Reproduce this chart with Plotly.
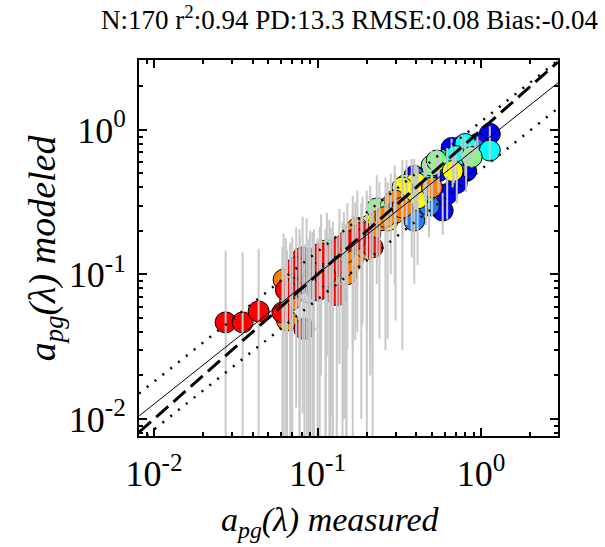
import plotly.graph_objects as go

# ---- header statistics
n_obs = 170
r2 = 0.94
pd_pct = 13.3
rmse = 0.08
bias = -0.04

# ---- regression fit (power law) and its +/- band
fit_coef = 0.80
fit_exp = 0.90
band_up = 1.43
band_down = 1.50

# ---- one colour per wavelength band (jet-like), drawn blue first, red last
band_colors = ["#0000FF", "#1E7FFF", "#00FFFF", "#80FF80", "#FFFF00", "#FF8000", "#FF0000"]

# band 0 (blue)
meas_b0 = [1.13, 0.76, 0.81, 0.71, 0.582, 0.85, 0.39, 0.62, 0.95, 0.66, 0.80, 0.55]
mod_b0 = [0.94, 0.77, 0.52, 0.43, 0.277, 0.70, 0.48, 0.36, 0.80, 0.75, 0.58, 0.52]
err_b0 = [0.12, 0.15, 0.15, 0.12, 0.09, 0.10, 0.15, 0.12, 0.10, 0.12, 0.10, 0.15]

# band 1 (medium blue)
meas_b1 = [0.39, 0.92, 0.45, 0.48, 0.68]
mod_b1 = [0.236, 0.74, 0.47, 0.30, 0.55]
err_b1 = [0.15, 0.10, 0.15, 0.12, 0.12]

# band 2 (cyan)
meas_b2 = [1.13, 0.62, 0.55, 0.80, 0.164, 0.46, 0.70, 0.12]
mod_b2 = [0.72, 0.63, 0.60, 0.80, 0.19, 0.44, 0.66, 0.11]
err_b2 = [0.10, 0.12, 0.12, 0.10, 0.16, 0.15, 0.10, 0.10]

# band 3 (light green)
meas_b3 = [0.875, 0.498, 0.535, 0.23, 0.46, 0.114, 0.20, 0.35, 0.28]
mod_b3 = [0.65, 0.567, 0.614, 0.286, 0.37, 0.147, 0.21, 0.42, 0.30]
err_b3 = [0.10, 0.15, 0.12, 0.20, 0.15, 0.12, 0.17, 0.20, 0.20]

# band 4 (yellow)
meas_b4 = [0.376, 0.409, 0.268, 0.67, 0.40, 0.112, 0.15, 0.21, 0.088, 0.33]
mod_b4 = [0.381, 0.336, 0.236, 0.52, 0.43, 0.105, 0.115, 0.22, 0.075, 0.40]
err_b4 = [0.25, 0.22, 0.20, 0.12, 0.15, 0.10, 0.11, 0.19, 0.10, 0.22]

# band 5 (orange)
meas_b5 = [0.065, 0.062, 0.068, 0.164, 0.15, 0.142, 0.239, 0.296, 0.30, 0.50, 0.185,
           0.21, 0.12, 0.26, 0.175, 0.33, 0.095, 0.20, 0.145]
mod_b5 = [0.048, 0.092, 0.066, 0.125, 0.10, 0.112, 0.236, 0.325, 0.268, 0.40, 0.16,
          0.19, 0.095, 0.25, 0.21, 0.29, 0.105, 0.15, 0.14]
err_b5 = [0.10, 0.10, 0.10, 0.13, 0.12, 0.12, 0.20, 0.24, 0.22, 0.15, 0.15,
          0.17, 0.11, 0.22, 0.17, 0.26, 0.10, 0.16, 0.13]

# band 6 (red)
meas_b6 = [0.0274, 0.0348, 0.0436, 0.061, 0.083, 0.0776, 0.0857, 0.090, 0.0776, 0.070,
           0.103, 0.093, 0.118, 0.131, 0.136, 0.124, 0.188, 0.217, 0.10, 0.081,
           0.074, 0.112, 0.17, 0.064, 0.105, 0.152]
mod_b6 = [0.0466, 0.0466, 0.0555, 0.0546, 0.042, 0.106, 0.125, 0.091, 0.0867, 0.080,
          0.102, 0.087, 0.119, 0.072, 0.154, 0.112, 0.195, 0.154, 0.0775, 0.131,
          0.112, 0.097, 0.175, 0.078, 0.14, 0.17]
err_b6 = [0.10, 0.095, 0.095, 0.10, 0.12, 0.10, 0.12, 0.11, 0.10, 0.10,
          0.11, 0.11, 0.12, 0.11, 0.13, 0.12, 0.15, 0.15, 0.10, 0.12,
          0.10, 0.11, 0.14, 0.10, 0.12, 0.14]

# ---- axis ticks
major_vals = [0.01, 0.1, 1]
major_text = ["10<sup>-2</sup>", "10<sup>-1</sup>", "10<sup>0</sup>"]
minor_vals = [k * 10.0 ** d for d in (-3, -2, -1, 0) for k in range(2, 10)]
x_range_log = [-2.092, 0.470]
y_range_log = [-2.118, 0.484]

groups = [(meas_b0, mod_b0, err_b0), (meas_b1, mod_b1, err_b1), (meas_b2, mod_b2, err_b2),
          (meas_b3, mod_b3, err_b3), (meas_b4, mod_b4, err_b4), (meas_b5, mod_b5, err_b5),
          (meas_b6, mod_b6, err_b6)]
xs, ys, es, cs = [], [], [], []
for k, (m, p, e) in enumerate(groups):
    xs += m
    ys += p
    es += e
    cs += [band_colors[k]] * len(m)

FONT = "Liberation Serif"

fig = go.Figure()
fig.add_trace(go.Scatter(
    x=xs, y=ys, mode="markers",
    marker=dict(size=21, color=cs, line=dict(color="black", width=1)),
    hoverinfo="skip"))
fig.add_trace(go.Scatter(
    x=xs, y=ys, mode="markers",
    marker=dict(size=2, opacity=0),
    error_y=dict(type="data", array=es, visible=True, color="#C8C8C8", thickness=2, width=0),
    hoverinfo="skip"))

x_line = [10 ** x_range_log[0], 10 ** x_range_log[1]]
y_fit = [fit_coef * v ** fit_exp for v in x_line]
fig.add_trace(go.Scatter(x=x_line, y=x_line, mode="lines",
                         line=dict(color="black", width=3, dash="16px,7px")))
fig.add_trace(go.Scatter(x=x_line, y=y_fit, mode="lines",
                         line=dict(color="black", width=1)))
fig.add_trace(go.Scatter(x=x_line, y=[v * band_up for v in y_fit], mode="lines",
                         line=dict(color="black", width=2.5, dash="2px,8px")))
fig.add_trace(go.Scatter(x=x_line, y=[v / band_down for v in y_fit], mode="lines",
                         line=dict(color="black", width=2.5, dash="2px,8px")))

axis_common = dict(
    type="log", showgrid=False, zeroline=False, showline=True, linecolor="black",
    linewidth=2, mirror="allticks", ticks="inside", ticklen=8, tickwidth=2,
    tickcolor="black", tickmode="array", tickvals=major_vals, ticktext=major_text,
    tickfont=dict(family=FONT, size=36, color="black"),
    minor=dict(ticks="inside", ticklen=4, tickwidth=1.5, tickcolor="black",
               tickmode="array", tickvals=minor_vals, showgrid=False),
)
fig.update_xaxes(range=x_range_log, ticklabelstandoff=5, **axis_common)
fig.update_yaxes(range=y_range_log, ticklabelstandoff=4, **axis_common)

title_text = (f"N:{n_obs} r<sup>2</sup>:{r2:.2f} PD:{pd_pct:.1f} "
              f"RMSE:{rmse:.2f} Bias:{bias:.2f}")
fig.add_annotation(text=title_text, xref="paper", yref="paper", x=1.10, y=1.112,
                   xanchor="right", yanchor="middle", showarrow=False,
                   font=dict(family=FONT, size=27, color="black"))
fig.add_annotation(text="<i>a</i><sub><i>pg</i></sub><i>(λ) measured</i>",
                   xref="paper", yref="paper", x=0.456, y=-0.228,
                   xanchor="center", yanchor="middle", showarrow=False,
                   font=dict(family=FONT, size=34, color="black"))
fig.add_annotation(text="<i>a</i><sub><i>pg</i></sub><i>(λ) modeled</i>",
                   xref="paper", yref="paper", x=-0.224, y=0.5, textangle=-90,
                   xanchor="center", yanchor="middle", showarrow=False,
                   font=dict(family=FONT, size=38, color="black"))

fig.update_layout(
    width=605, height=547, showlegend=False,
    margin=dict(l=139, r=47, t=60, b=111),
    plot_bgcolor="white", paper_bgcolor="white",
)
fig.write_html("out.html")
